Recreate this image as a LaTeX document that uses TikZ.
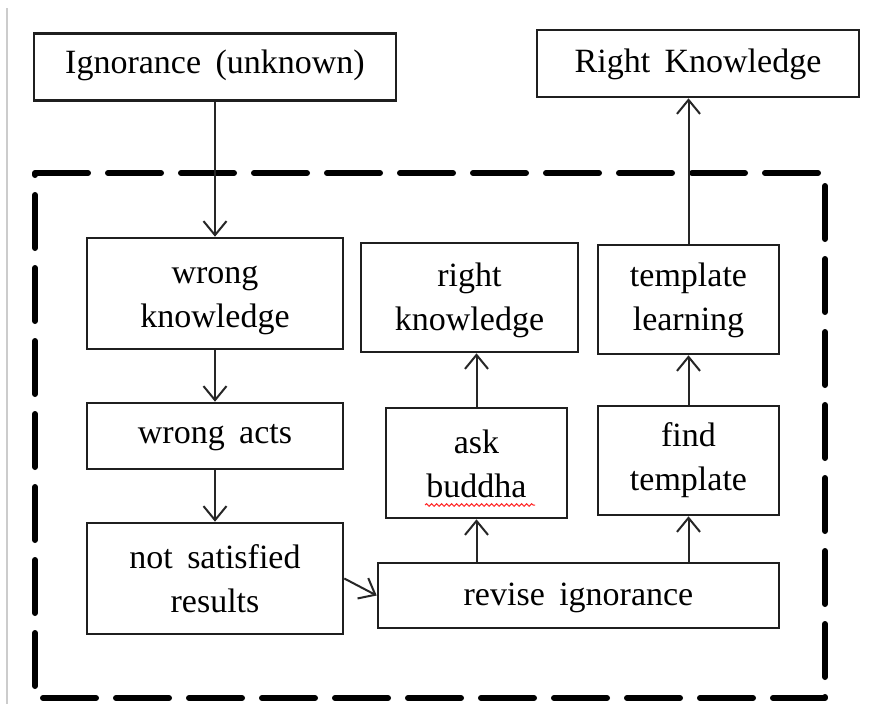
\documentclass[tikz,border=0pt]{standalone}
\usepackage{fontspec}
\setmainfont{Liberation Serif}[WordSpace=1.7]
\usetikzlibrary{arrows.meta,decorations.pathmorphing}
\begin{document}
\begin{tikzpicture}[x=1pt,y=-1pt,
  box/.style={draw=black!88,line width=2.6pt,rectangle,inner sep=0pt,align=center,
    font=\fontsize{34}{44}\selectfont,text depth=0pt},
  % last baseline sits #1 below the box centre
  drop/.style={text height=#1*2pt},
  arr/.style={draw=black!85,line width=2pt,-{Straight Barb[length=14pt,width=23pt,line width=2pt]}},
  frame/.style={draw=black,line width=6pt,dash pattern=on 53pt off 20pt,line cap=round,line join=round}
]
\useasboundingbox (0,0) rectangle (869,704);
\fill[white] (0,0) rectangle (869,704);
% thin grey margin rule on the left
\draw[black!20,line width=1.5pt] (7,8) -- (7,704);

% dashed enclosure
\draw[frame] (35,173) -- (825,173) -- (825,698) -- (35,698) -- cycle;

% boxes
\node[box,drop=6.5,minimum width=362pt,minimum height=67pt] (ign) at (215,67) {Ignorance (unknown)};
\node[box,drop=8.5,minimum width=322pt,minimum height=67pt] (RK) at (698,63.5) {Right Knowledge};
\node[box,drop=33.5,minimum width=256pt,minimum height=111pt] (wk) at (215,293.5) {wrong\\knowledge};
\node[box,drop=7,minimum width=256pt,minimum height=66pt] (wa) at (215,436) {wrong acts};
\node[box,drop=33.5,minimum width=256pt,minimum height=111pt] (ns) at (215,578.5) {not satisfied\\results};
\node[box,drop=9.5,minimum width=401pt,minimum height=65pt] (ri) at (578.5,595.5) {revise ignorance};
\node[box,drop=34,minimum width=181pt,minimum height=110pt] (ab) at (476.5,463) {ask\\buddha};
\node[box,drop=29.5,minimum width=181pt,minimum height=109pt] (ft) at (688.5,460.5) {find\\template};
\node[box,drop=32.5,minimum width=217pt,minimum height=109pt] (rk) at (469.5,297.5) {right\\knowledge};
\node[box,drop=30.5,minimum width=181pt,minimum height=109pt] (tl) at (688.5,299.5) {template\\learning};

% spell-check squiggle under "buddha"
\draw[red!85,line width=1pt,decorate,decoration={snake,amplitude=1.3pt,segment length=5pt}]
  (425,505) -- (535,505);

% connectors
\draw[arr] (ign.south) -- (wk.north);
\draw[arr] (wk.south) -- (wa.north);
\draw[arr] (wa.south) -- (ns.north);
\draw[arr] (ns.east) -- (ri.west);
\draw[arr] (ri.north -| ab.south) -- (ab.south);
\draw[arr] (ri.north -| ft.south) -- (ft.south);
\draw[arr] (ab.north) -- (ab.north |- rk.south);
\draw[arr] (ft.north) -- (tl.south);
\draw[arr] (tl.north) -- (tl.north |- RK.south);
\end{tikzpicture}
\end{document}
